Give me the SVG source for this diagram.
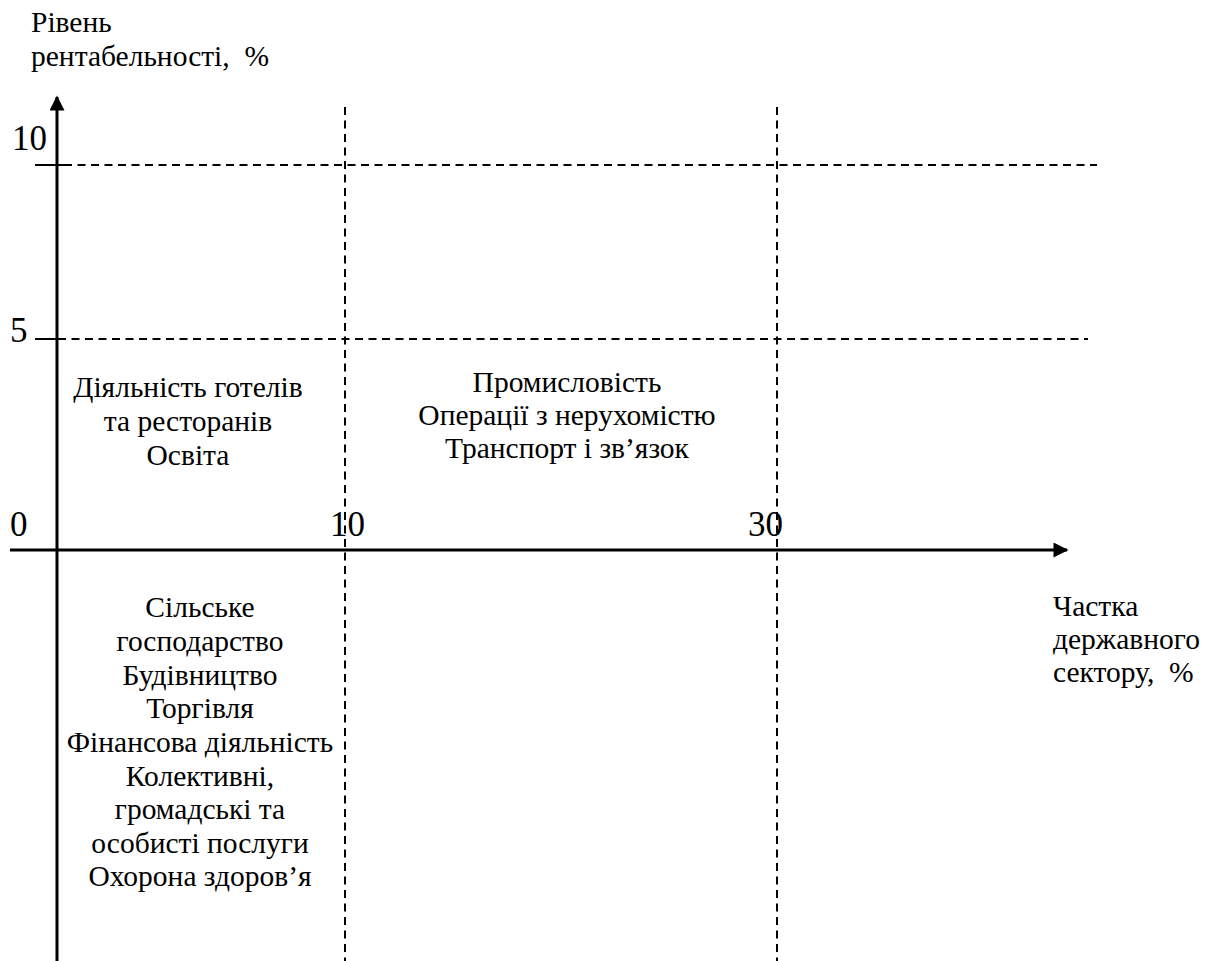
<svg xmlns="http://www.w3.org/2000/svg" width="1208" height="961" viewBox="0 0 1208 961">
  <style>
    .t { font-family: "Liberation Serif", "Times New Roman", serif; font-size: 29.5px; fill: #000; }
    .c { text-anchor: middle; }
    .n { font-family: "Liberation Serif", "Times New Roman", serif; font-size: 35px; fill: #000; }
    .axis { stroke: #000; stroke-width: 3; fill: none; }
    .tick { stroke: #000; stroke-width: 2; fill: none; }
    .grid { stroke: #000; stroke-width: 2; stroke-dasharray: 8 5.5; fill: none; }
  </style>
  <defs>
    <marker id="arrow" viewBox="0 0 10 10" refX="9" refY="5" markerWidth="17" markerHeight="15" markerUnits="userSpaceOnUse" orient="auto">
      <path d="M0,0 L10,5 L0,10 Z" fill="#000"/>
    </marker>
  </defs>

  <!-- grid lines -->
  <g id="grid">
    <line class="grid" x1="64" y1="165" x2="1097" y2="165"/>
    <line class="grid" x1="58" y1="339" x2="1088" y2="339"/>
    <line class="grid" x1="345" y1="107" x2="345" y2="961"/>
    <line class="grid" x1="777" y1="107" x2="777" y2="961"/>
  </g>

  <!-- axes with ticks -->
  <g id="axes">
    <line class="axis" x1="57" y1="961" x2="57" y2="97" marker-end="url(#arrow)"/>
    <line class="axis" x1="10" y1="550" x2="1067" y2="550" marker-end="url(#arrow)"/>
    <line class="tick" x1="35" y1="165" x2="64" y2="165"/>
    <line class="tick" x1="35" y1="339" x2="58" y2="339"/>
  </g>

  <!-- axis titles and values -->
  <g id="y-title">
    <text class="t" x="31" y="32">Рівень</text>
    <text class="t" x="31" y="66" xml:space="preserve">рентабельності,  %</text>
  </g>
  <g id="x-title">
    <text class="t" x="1053" y="616">Частка</text>
    <text class="t" x="1053" y="649">державного</text>
    <text class="t" x="1053" y="682" xml:space="preserve">сектору,  %</text>
  </g>
  <g id="values">
    <text class="n" x="12" y="150">10</text>
    <text class="n" x="10" y="342">5</text>
    <text class="n" x="10" y="536">0</text>
    <text class="n" x="330" y="536">10</text>
    <text class="n" x="748" y="536">30</text>
  </g>

  <!-- sector groups -->
  <g id="group-low-share-high">
    <text class="t c" x="188" y="397">Діяльність готелів</text>
    <text class="t c" x="188" y="431">та ресторанів</text>
    <text class="t c" x="188" y="465">Освіта</text>
  </g>
  <g id="group-mid-share">
    <text class="t c" x="567" y="392">Промисловість</text>
    <text class="t c" x="567" y="425">Операції з нерухомістю</text>
    <text class="t c" x="567" y="458">Транспорт і зв’язок</text>
  </g>
  <g id="group-low-share-low">
    <text class="t c" x="200" y="617">Сільське</text>
    <text class="t c" x="200" y="651">господарство</text>
    <text class="t c" x="200" y="685">Будівництво</text>
    <text class="t c" x="200" y="718">Торгівля</text>
    <text class="t c" x="200" y="752">Фінансова діяльність</text>
    <text class="t c" x="200" y="786">Колективні,</text>
    <text class="t c" x="200" y="819">громадські та</text>
    <text class="t c" x="200" y="853">особисті послуги</text>
    <text class="t c" x="200" y="886">Охорона здоров’я</text>
  </g>
</svg>
